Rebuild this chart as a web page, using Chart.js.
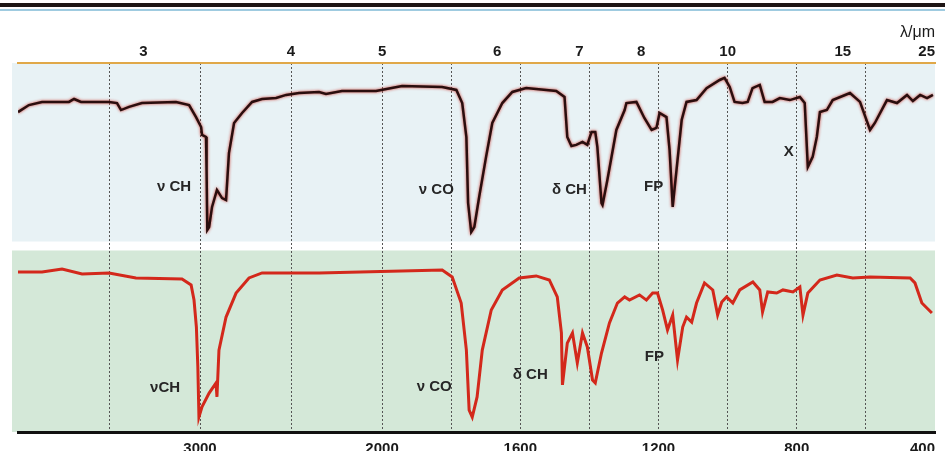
<!DOCTYPE html>
<html>
<head>
<meta charset="utf-8">
<script src="https://cdn.jsdelivr.net/npm/chart.js@4.4.1/dist/chart.umd.min.js"></script>
<style>
  html, body { margin: 0; padding: 0; background: #fff; }
</style>
</head>
<body>
<canvas id="myChart" width="945" height="451"></canvas>
<script>
// Rejillas verticales y etiquetas del eje inferior (número de onda, cm-1)
const gridWn = [3500, 3000, 2500, 2000, 1800, 1600, 1400, 1200, 1000, 800, 600, 400];
const bottomLabels = [3000, 2000, 1600, 1200, 800, 400];
// Eje superior en longitud de onda (µm)
const lambdaTicks = [3, 4, 5, 6, 7, 8, 10, 15, 25];

// Espectro superior (negro): número de onda y transmitancia (%)
const upperWn = [4000,3940,3868,3720,3692,3654,3500,3456,3434,3390,3319,3132,3060,3022,2994,2989,2967,2964,2960,2950,2934,2907,2879,2857,2841,2813,2769,2714,2659,2582,2527,2456,2346,2308,2220,2033,1942,1826,1785,1768,1756,1751,1742,1733,1719,1699,1681,1652,1623,1583,1496,1472,1464,1452,1438,1420,1406,1394,1383,1377,1365,1362,1348,1322,1298,1293,1264,1241,1220,1206,1197,1177,1168,1159,1148,1133,1119,1090,1061,1023,1009,994,980,957,942,928,907,893,870,849,820,791,777,768,754,742,733,713,696,646,617,588,574,539,510,481,464,443,423,406];
const upperT = [73.4,77.2,78.9,78.9,80.5,78.9,78.9,78.3,74.5,76.2,78.3,78.9,77.2,70.7,65.3,61.0,59.9,42.0,9.5,11.1,22.0,31.2,26.8,25.7,51.2,67.5,72.9,78.9,80.5,81.0,82.7,83.7,84.3,83.2,84.8,84.8,87.5,87.0,85.4,78.3,59.9,24.1,8.4,11.1,27.4,49.1,67.5,78.3,84.3,86.4,84.8,81.6,59.9,55.0,55.6,57.2,55.6,62.6,62.6,54.5,24.1,23.0,36.6,63.7,74.5,78.3,78.9,70.2,63.7,64.8,72.9,70.7,52.8,22.0,42.0,69.1,78.9,79.9,86.4,90.8,91.9,87.0,78.9,78.3,78.9,86.4,88.1,78.9,78.9,81.0,79.9,81.6,78.3,43.6,49.1,59.9,73.4,74.5,79.9,83.7,78.9,63.7,67.5,79.9,78.3,82.7,79.4,82.7,81.0,82.7];

// Espectro inferior (rojo)
const lowerWn = [4000,3868,3758,3648,3500,3352,3099,3049,3033,3020,3012,3006,2989,2950,2912,2907,2896,2857,2802,2731,2659,2346,1826,1797,1771,1756,1748,1739,1725,1710,1684,1652,1603,1554,1516,1493,1481,1478,1464,1449,1435,1420,1406,1391,1383,1365,1342,1319,1298,1284,1255,1235,1217,1203,1188,1174,1159,1145,1130,1119,1104,1090,1067,1043,1029,1017,1003,985,965,927,907,899,884,858,840,811,791,782,768,733,684,638,588,472,458,438,409];
const lowerT = [86.7,86.7,88.3,85.6,86.2,83.5,82.9,79.7,71.5,56.9,35.2,8.1,13.6,21.1,26.6,19.0,44.4,62.3,75.3,83.5,86.2,86.2,87.8,84.0,69.9,44.4,11.9,8.1,19.0,44.4,66.1,77.0,83.5,84.6,82.4,73.2,53.7,25.5,48.2,53.7,37.4,53.7,46.1,28.2,26.6,42.8,59.1,69.9,73.2,71.5,74.3,71.5,75.3,75.3,66.1,55.3,63.4,39.0,56.9,62.3,59.6,69.9,80.8,77.0,63.4,70.5,73.2,69.9,77.0,81.3,77.0,65.0,75.9,75.3,77.0,75.9,78.6,63.4,75.3,82.4,85.1,83.5,84.0,83.5,80.8,69.9,64.5];

// Etiquetas de bandas
const peakLabels = ['ν CH', 'ν CO', 'δ CH', 'FP', 'X', 'νCH', 'ν CO', 'δ CH', 'FP'];
const peakWn = [3143, 1843, 1458, 1214, 823, 3192, 1849, 1571, 1212];
const peakT = [32.8, 31.2, 31.2, 32.8, 51.8, 23.8, 24.4, 30.9, 40.7];
const peakPanel = ['yTop', 'yTop', 'yTop', 'yTop', 'yTop', 'yBot', 'yBot', 'yBot', 'yBot'];

// Escala IR: 4000-2000 comprimida, 2000-400 expandida
const BREAK_WN = 2000;
const BREAK_FRAC = 0.397;

class IRScale extends Chart.LinearScale {
  static id = 'ir';
  static defaults = Chart.LinearScale.defaults;
  _dec(v) {
    if (v >= BREAK_WN) return (this.max - v) / (this.max - BREAK_WN) * BREAK_FRAC;
    return BREAK_FRAC + (BREAK_WN - v) / (BREAK_WN - this.min) * (1 - BREAK_FRAC);
  }
  getPixelForValue(v) {
    return v === null ? NaN : this.getPixelForDecimal(this._dec(v));
  }
  getValueForPixel(p) {
    const d = this.getDecimalForPixel(p);
    if (d <= BREAK_FRAC) return this.max - d / BREAK_FRAC * (this.max - BREAK_WN);
    return BREAK_WN - (d - BREAK_FRAC) / (1 - BREAK_FRAC) * (BREAK_WN - this.min);
  }
}
Chart.register(IRScale);

const backdrop = {
  id: 'backdrop',
  beforeDraw(chart) {
    const c = chart.ctx, a = chart.chartArea;
    const yt = chart.scales.yTop, yb = chart.scales.yBot;
    c.save();
    c.fillStyle = '#fff';
    c.fillRect(0, 0, chart.width, chart.height);
    c.fillStyle = '#1d1515';
    c.fillRect(0, 3, chart.width, 4);
    c.fillStyle = '#9fcbe0';
    c.fillRect(0, 9, chart.width, 2);
    c.fillStyle = '#e8f2f5';
    c.fillRect(a.left - 6, yt.top, a.width + 6, yt.bottom - yt.top - 6);
    c.fillStyle = '#d4e8d8';
    c.fillRect(a.left - 6, yb.top + 3, a.width + 6, yb.bottom - yb.top - 3);
    c.restore();
  }
};

const glow = {
  id: 'glow',
  beforeDatasetDraw(chart, args) {
    if (args.index !== 0) return;
    chart.ctx.save();
    chart.ctx.shadowColor = 'rgba(200,40,30,0.9)';
    chart.ctx.shadowBlur = 3;
  },
  afterDatasetDraw(chart, args) {
    if (args.index === 0) chart.ctx.restore();
  }
};

const peakText = {
  id: 'peakText',
  afterDatasetsDraw(chart) {
    const c = chart.ctx, x = chart.scales.x;
    c.save();
    c.font = 'bold 15px "Liberation Sans", Arial, sans-serif';
    c.fillStyle = '#262626';
    c.textAlign = 'center';
    c.textBaseline = 'middle';
    peakLabels.forEach((t, i) => {
      const y = chart.scales[peakPanel[i]];
      c.fillText(t, x.getPixelForValue(peakWn[i]), y.getPixelForValue(peakT[i]));
    });
    c.restore();
  }
};

const tickFont = { family: '"Liberation Sans", Arial, sans-serif', size: 15, weight: 'bold' };

const ctx = document.getElementById('myChart').getContext('2d');
const myChart = new Chart(ctx, {
  type: 'line',
  data: {
    datasets: [{
      label: 'superior',
      data: upperWn.map((w, i) => ({ x: w, y: upperT[i] })),
      xAxisID: 'x',
      yAxisID: 'yTop',
      borderColor: '#2a0e0e',
      borderWidth: 2.5,
      pointRadius: 0,
      tension: 0,
      fill: false
    }, {
      label: 'inferior',
      data: lowerWn.map((w, i) => ({ x: w, y: lowerT[i] })),
      xAxisID: 'x',
      yAxisID: 'yBot',
      borderColor: '#d3281b',
      borderWidth: 3,
      pointRadius: 0,
      tension: 0,
      fill: false
    }]
  },
  options: {
    responsive: false,
    animation: false,
    layout: { padding: { top: 23, left: 18, right: 10, bottom: 0 } },
    plugins: { legend: { display: false }, tooltip: { enabled: false } },
    scales: {
      x: {
        type: 'ir', position: 'bottom', min: 400, max: 4000, bounds: 'data',
        afterBuildTicks: s => { s.ticks = gridWn.map(v => ({ value: v })); },
        afterFit: s => { s.height = 19; s.paddingLeft = 0; s.paddingRight = 0; },
        grid: {
          color: c => (c.tick && c.tick.value === 400) ? 'rgba(0,0,0,0)' : '#555',
          lineWidth: 1,
          drawTicks: false
        },
        border: { color: '#111', width: 3, dash: [2, 2] },
        ticks: {
          autoSkip: false, maxRotation: 0, padding: 8, align: 'inner', color: '#1a1a1a', font: tickFont,
          callback: v => bottomLabels.includes(v) ? String(v) : ''
        }
      },
      xTop: {
        type: 'ir', position: 'top', min: 400, max: 4000, bounds: 'data',
        afterBuildTicks: s => { s.ticks = lambdaTicks.map(l => ({ value: 10000 / l })); },
        afterFit: s => { s.height = 40; s.paddingLeft = 0; s.paddingRight = 0; },
        grid: { display: false, drawTicks: false },
        border: { color: '#e0a848', width: 2 },
        title: {
          display: true, text: 'λ/μm', align: 'end', color: '#1a1a1a',
          font: { family: '"Liberation Sans", Arial, sans-serif', size: 16 },
          padding: { top: 0, bottom: 2 }
        },
        ticks: {
          autoSkip: false, maxRotation: 0, padding: 2, align: 'inner', color: '#1a1a1a', font: tickFont,
          callback: (v, i) => String(lambdaTicks[i])
        }
      },
      // los ejes apilados a la izquierda se colocan en orden inverso
      yBot: { type: 'linear', position: 'left', stack: 'ir', stackWeight: 1, min: 0, max: 100, display: false },
      yTop: { type: 'linear', position: 'left', stack: 'ir', stackWeight: 1, min: 0, max: 100, display: false }
    }
  },
  plugins: [backdrop, glow, peakText]
});
</script>
</body>
</html>
